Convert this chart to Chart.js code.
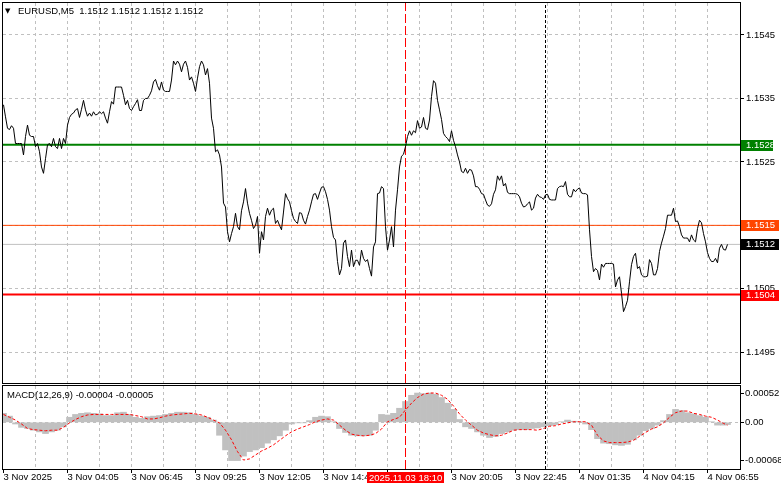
<!DOCTYPE html>
<html><head><meta charset="utf-8">
<script src="https://cdn.jsdelivr.net/npm/chart.js@4.4.1/dist/chart.umd.min.js"></script>
<style>
html,body{margin:0;padding:0;background:#fff;overflow:hidden}
#wrap{position:relative;width:781px;height:489px;background:#fff}
#main{position:absolute;left:0;top:0}
#macd{position:absolute;left:0;top:384px}
</style></head><body>
<div id="wrap">
<canvas id="main" width="781" height="385"></canvas>
<canvas id="macd" width="781" height="105"></canvas>
</div>
<script>
// ---------------- DATA ----------------
const symbolTitle = 'EURUSD,M5';
// M5 close prices, one per bar (bar index = position)
const closes = [1.15340,1.15321,1.15303,1.15301,1.15307,1.15303,1.15279,1.15279,1.15279,1.15279,
1.15261,1.15290,1.15308,1.15292,1.15290,1.15290,1.15274,1.15279,1.15266,1.15242,
1.15232,1.15255,1.15277,1.15279,1.15274,1.15287,1.15274,1.15271,1.15287,1.15271,
1.15287,1.15279,1.15308,1.15320,1.15325,1.15327,1.15332,1.15334,1.15320,1.15333,
1.15347,1.15332,1.15322,1.15327,1.15322,1.15329,1.15324,1.15325,1.15329,1.15326,
1.15329,1.15319,1.15311,1.15329,1.15345,1.15341,1.15368,1.15368,1.15368,1.15368,
1.15355,1.15340,1.15347,1.15334,1.15331,1.15337,1.15342,1.15348,1.15331,1.15331,
1.15347,1.15350,1.15350,1.15355,1.15362,1.15376,1.15380,1.15370,1.15363,1.15376,
1.15363,1.15361,1.15361,1.15361,1.15379,1.15409,1.15403,1.15409,1.15404,1.15392,
1.15404,1.15409,1.15399,1.15379,1.15384,1.15374,1.15361,1.15382,1.15400,1.15409,
1.15403,1.15387,1.15397,1.15374,1.15319,1.15303,1.15266,1.15269,1.15261,1.15242,
1.15185,1.15179,1.15140,1.15124,1.15137,1.15148,1.15169,1.15148,1.15143,1.15173,
1.15187,1.15208,1.15185,1.15169,1.15158,1.15145,1.15150,1.15164,1.15106,1.15140,
1.15127,1.15164,1.15177,1.15166,1.15174,1.15177,1.15153,1.15158,1.15150,1.15143,
1.15171,1.15200,1.15192,1.15187,1.15173,1.15161,1.15156,1.15153,1.15170,1.15169,
1.15158,1.15152,1.15164,1.15174,1.15187,1.15199,1.15200,1.15191,1.15201,1.15210,
1.15211,1.15203,1.15191,1.15174,1.15148,1.15131,1.15127,1.15093,1.15072,1.15082,
1.15122,1.15127,1.15101,1.15085,1.15111,1.15085,1.15095,1.15095,1.15087,1.15111,
1.15098,1.15093,1.15096,1.15082,1.15070,1.15116,1.15124,1.15200,1.15201,1.15211,
1.15208,1.15148,1.15111,1.15127,1.15148,1.15116,1.15174,1.15206,1.15242,1.15259,
1.15262,1.15274,1.15290,1.15299,1.15292,1.15299,1.15296,1.15315,1.15303,1.15305,
1.15320,1.15303,1.15301,1.15316,1.15353,1.15378,1.15374,1.15347,1.15332,1.15317,
1.15295,1.15290,1.15287,1.15282,1.15299,1.15284,1.15274,1.15261,1.15250,1.15235,
1.15233,1.15240,1.15232,1.15238,1.15237,1.15228,1.15211,1.15211,1.15207,1.15200,
1.15199,1.15190,1.15182,1.15180,1.15184,1.15199,1.15206,1.15228,1.15221,1.15228,
1.15212,1.15216,1.15202,1.15200,1.15200,1.15200,1.15200,1.15199,1.15195,1.15185,
1.15179,1.15180,1.15184,1.15187,1.15174,1.15177,1.15193,1.15199,1.15195,1.15194,
1.15191,1.15198,1.15199,1.15191,1.15190,1.15190,1.15190,1.15208,1.15211,1.15212,
1.15211,1.15219,1.15199,1.15195,1.15195,1.15207,1.15203,1.15207,1.15209,1.15201,
1.15200,1.15200,1.15198,1.15143,1.15101,1.15077,1.15082,1.15079,1.15064,1.15089,
1.15084,1.15090,1.15090,1.15090,1.15090,1.15089,1.15053,1.15064,1.15069,1.15043,
1.15014,1.15022,1.15032,1.15061,1.15088,1.15101,1.15106,1.15082,1.15085,1.15072,
1.15069,1.15069,1.15070,1.15096,1.15090,1.15072,1.15072,1.15082,1.15109,1.15122,
1.15133,1.15145,1.15166,1.15166,1.15166,1.15177,1.15156,1.15157,1.15148,1.15135,
1.15130,1.15130,1.15130,1.15124,1.15135,1.15127,1.15124,1.15145,1.15158,1.15154,
1.15137,1.15124,1.15107,1.15098,1.15093,1.15093,1.15098,1.15091,1.15114,1.15120,
1.15112,1.15111,1.15120];

// MACD(12,26,9) sampled bars, main (histogram) and signal values
const macdBars = [0,3,6,9,12,15,18,21,24,27,30,33,36,39,42,45,48,51,54,57,60,63,66,69,72,75,78,81,84,87,90,93,96,99,
102,105,108,111,114,117,120,123,126,129,132,135,138,141,144,147,150,153,156,159,162,165,168,171,174,177,180,183,186,189,
192,195,198,201,204,207,210,213,216,219,222,225,228,231,234,237,240,243,246,249,252,255,258,261,264,267,270,273,276,279,
282,285,288,291,294,297,300,303,306,309,312,315,318,321,324,327,330,333,336,339,342,345,348,351,354,357,360,362];
const macdMain = [0.00016,0.00011,-0.00003,-0.00009,-0.00011,-0.00014,-0.00017,-0.00020,-0.00017,-0.00014,-0.00008,0.00009,0.00014,0.00016,0.00017,0.00016,0.00015,0.00012,0.00012,0.00017,0.00018,0.00014,0.00009,0.00007,0.00010,0.00011,0.00012,0.00014,0.00016,0.00018,0.00018,0.00017,0.00014,0.00011,
0.00009,0.00004,-0.00023,-0.00049,-0.00068,-0.00068,-0.00060,-0.00052,-0.00049,-0.00045,-0.00037,-0.00031,-0.00024,-0.00014,-0.00003,-0.00001,-0.00001,0.00003,0.00009,0.00011,0.00010,0.00001,-0.00011,-0.00018,-0.00023,-0.00024,-0.00024,-0.00023,-0.00014,0.00014,
0.00013,0.00016,0.00025,0.00037,0.00048,0.00052,0.00051,0.00052,0.00050,0.00044,0.00034,0.00023,0.00005,-0.00008,-0.00011,-0.00017,-0.00023,-0.00027,-0.00025,-0.00020,-0.00017,-0.00014,-0.00013,-0.00013,-0.00011,-0.00010,-0.00008,-0.00006,-0.00004,0.00001,
0.00004,0.00002,0.00001,-0.00003,-0.00013,-0.00029,-0.00037,-0.00038,-0.00040,-0.00041,-0.00039,-0.00031,-0.00023,-0.00015,-0.00011,-0.00005,0.00003,0.00014,0.00023,0.00021,0.00017,0.00015,0.00012,0.00009,0.00001,-0.00005,-0.00005,-0.00004];
const macdSignal = [0.00014,0.00009,0.00004,-0.00003,-0.00011,-0.00013,-0.00014,-0.00015,-0.00014,-0.00014,-0.00009,-0.00001,0.00005,0.00010,0.00013,0.00014,0.00014,0.00014,0.00014,0.00014,0.00014,0.00014,0.00012,0.00010,0.00006,0.00006,0.00008,0.00011,0.00013,0.00014,0.00015,0.00016,0.00015,0.00013,
0.00009,0.00004,-0.00001,-0.00014,-0.00031,-0.00052,-0.00067,-0.00065,-0.00058,-0.00051,-0.00046,-0.00040,-0.00032,-0.00024,-0.00017,-0.00012,-0.00008,-0.00004,0.00001,0.00004,0.00006,0.00004,-0.00005,-0.00014,-0.00021,-0.00023,-0.00024,-0.00023,-0.00020,-0.00012,
0.00001,0.00005,0.00009,0.00022,0.00034,0.00044,0.00050,0.00052,0.00052,0.00048,0.00041,0.00029,0.00015,0.00004,-0.00005,-0.00014,-0.00019,-0.00022,-0.00024,-0.00023,-0.00019,-0.00014,-0.00013,-0.00013,-0.00013,-0.00014,-0.00011,-0.00007,-0.00006,-0.00003,
-0.00001,0.00001,0.00001,0.00001,-0.00005,-0.00023,-0.00033,-0.00036,-0.00036,-0.00036,-0.00035,-0.00032,-0.00025,-0.00018,-0.00012,-0.00008,-0.00001,0.00009,0.00017,0.00020,0.00020,0.00016,0.00014,0.00011,0.00009,0.00004,-0.00002,-0.00005];

// Horizontal levels
const levelValues = [1.15277, 1.1515, 1.1512, 1.15041];
const levelLineColors = ['#008000', '#ff4500', '#c0c0c0', '#ff0000'];
const levelTagColors = ['#008000', '#ff4500', '#000000', '#ff0000'];

// Axis ticks
const priceTicks = [1.1495, 1.1505, 1.1515, 1.1525, 1.1535, 1.1545];
const gridBars = [16,32,48,64,80,96,112,128,144,160,176,192,208,224,240,256,272,288,304,320,336,352];
const timeTickBars = [0,32,64,96,128,160,192,224,256,288,320,352];
const timeTickLabels = ['3 Nov 2025','3 Nov 04:05','3 Nov 06:45','3 Nov 09:25','3 Nov 12:05','3 Nov 14:45','3 Nov 17:25','3 Nov 20:05','3 Nov 22:45','4 Nov 01:35','4 Nov 04:15','4 Nov 06:55'];
const crosshairBar = 201;
const crosshairLabel = '2025.11.03 18:10';
const daySeparatorBar = 271;

// ---------------- CHART ----------------
const FONT = '"Liberation Sans", Arial, sans-serif';
const FS = 9.5;
const xMin = -0.25, xMax = 368.25;
const pMin = 1.149016, pMax = 1.155004;
const mMin = -0.000829, mMax = 0.000645;

const noPad = s => { s.paddingTop = 0; s.paddingBottom = 0; s.paddingLeft = 0; s.paddingRight = 0; };

const framePlugin = {
  id: 'frame',
  afterDatasetsDraw(chart) {
    const {ctx, chartArea: a} = chart;
    ctx.save();
    ctx.strokeStyle = '#000'; ctx.lineWidth = 1;
    ctx.strokeRect(a.left - 0.5, a.top - 0.5, a.right - a.left + 1, a.bottom - a.top + 1);
    ctx.restore();
  }
};

const mainDecor = {
  id: 'mainDecor',
  afterDraw(chart) {
    const {ctx} = chart;
    const y = chart.scales.y;
    ctx.save();
    ctx.font = FS + 'px ' + FONT;
    ctx.textBaseline = 'middle';
    levelValues.forEach((v, k) => {
      const py = Math.round(y.getPixelForValue(v));
      const w = k === 0 ? 32 : 38;
      ctx.fillStyle = levelTagColors[k];
      ctx.fillRect(741, py - 5, w, 11);
      ctx.fillStyle = '#fff';
      ctx.fillText(v.toFixed(4), 746, py + 0.5);
    });
    // header
    ctx.fillStyle = '#000';
    ctx.font = '7px "DejaVu Sans"';
    ctx.fillText('\u25BC', 5, 11);
    ctx.font = FS + 'px ' + FONT;
    const last = closes[closes.length - 1].toFixed(4);
    ctx.fillText(symbolTitle + '  ' + [last, last, last, last].join(' '), 18, 11);
    ctx.restore();
  }
};

const macdDecor = {
  id: 'macdDecor',
  afterDraw(chart) {
    const {ctx} = chart;
    const x = chart.scales.x;
    ctx.save();
    ctx.font = FS + 'px ' + FONT;
    ctx.textBaseline = 'middle';
    ctx.fillStyle = '#000';
    ctx.fillText('MACD(12,26,9) ' + macdMain[macdMain.length - 1].toFixed(5) + ' ' + macdSignal[macdSignal.length - 1].toFixed(5), 7, 11.5);
    const cx = x.getPixelForValue(crosshairBar);
    const w = ctx.measureText(crosshairLabel).width + 4;
    ctx.fillStyle = '#ff0000';
    ctx.fillRect(Math.round(cx - w / 2), 88, Math.round(w), 11);
    ctx.fillStyle = '#fff';
    ctx.fillText(crosshairLabel, Math.round(cx - w / 2) + 2, 94);
    ctx.restore();
  }
};

const vline = (bar, lo, hi, color, dash) => ({
  type: 'line', data: [{x: bar, y: lo}, {x: bar, y: hi}],
  borderColor: color, borderWidth: 1, borderDash: dash, pointRadius: 0, tension: 0
});

const mainDatasets = [
  {type: 'line', data: closes.map((v, i) => ({x: i, y: v})), borderColor: '#000', borderWidth: 1, pointRadius: 0, tension: 0},
  vline(crosshairBar, pMin, pMax, '#ff0000', [9, 3]),
  vline(daySeparatorBar, pMin, pMax, '#000', [3, 2])
].concat(levelValues.map((v, k) => ({
  type: 'line', data: [{x: xMin, y: v}, {x: xMax, y: v}],
  borderColor: levelLineColors[k], borderWidth: (k === 0 || k === 3) ? 2 : 1, pointRadius: 0
})));

new Chart(document.getElementById('main'), {
  type: 'line',
  data: {datasets: mainDatasets},
  options: {
    responsive: false, animation: false, events: [],
    layout: {padding: {left: 3, top: 3, right: 0, bottom: 2}},
    plugins: {legend: {display: false}, tooltip: {enabled: false}, title: {display: false}},
    scales: {
      x: {
        type: 'linear', min: xMin, max: xMax, offset: false,
        afterBuildTicks: s => { s.ticks = gridBars.map(v => ({value: v})); },
        afterFit: s => { s.height = 0; noPad(s); },
        grid: {color: '#c0c0c0', drawTicks: false, offset: false},
        border: {display: false, dash: [3, 3]},
        ticks: {display: false}
      },
      y: {
        position: 'right', min: pMin, max: pMax,
        afterBuildTicks: s => { s.ticks = priceTicks.map(v => ({value: v})); },
        afterFit: s => { s.width = 41; noPad(s); },
        grid: {color: '#c0c0c0', tickColor: '#000', tickLength: 4, drawTicks: true},
        border: {display: false, dash: [3, 3]},
        ticks: {font: {family: FONT, size: FS}, color: '#000', padding: 2, autoSkip: false, callback: v => Number(v).toFixed(4)}
      }
    }
  },
  plugins: [framePlugin, mainDecor]
});

const macdMax = Math.max(...macdMain, ...macdSignal);
const macdMin = Math.min(...macdMain, ...macdSignal);

new Chart(document.getElementById('macd'), {
  type: 'line',
  data: {datasets: [
    {type: 'line', data: macdBars.map((b, k) => ({x: b, y: macdSignal[k]})), borderColor: '#ff0000', borderWidth: 1, borderDash: [3, 2], pointRadius: 0, tension: 0},
    vline(crosshairBar, mMin, mMax, '#ff0000', [9, 3]),
    vline(daySeparatorBar, mMin, mMax, '#000', [3, 2]),
    {type: 'bar', data: macdBars.map((b, k) => ({x: b, y: macdMain[k]})), backgroundColor: '#c0c0c0', borderWidth: 0, barThickness: 6, grouped: false}
  ]},
  options: {
    responsive: false, animation: false, events: [],
    layout: {padding: {left: 3, top: 2, right: 0, bottom: 0}},
    plugins: {legend: {display: false}, tooltip: {enabled: false}},
    scales: {
      x: {
        type: 'linear', min: xMin, max: xMax, offset: false,
        afterBuildTicks: s => { s.ticks = [0].concat(gridBars).map(v => ({value: v})); },
        afterFit: s => { s.height = 20; noPad(s); },
        grid: {
          color: c => (c.tick && c.tick.value > 0) ? '#c0c0c0' : 'rgba(0,0,0,0)',
          tickColor: c => (c.tick && timeTickBars.includes(c.tick.value)) ? '#000' : 'rgba(0,0,0,0)',
          tickLength: 4, offset: false
        },
        border: {display: false, dash: [3, 3]},
        ticks: {
          font: {family: FONT, size: FS}, color: '#000', align: 'start', autoSkip: false,
          maxRotation: 0, minRotation: 0, padding: -1,
          callback: v => { const k = timeTickBars.indexOf(v); return k >= 0 ? timeTickLabels[k] : ''; }
        }
      },
      y: {
        position: 'right', min: mMin, max: mMax,
        afterBuildTicks: s => { s.ticks = [macdMax, 0, macdMin].map(v => ({value: v})); },
        afterFit: s => { s.width = 41; noPad(s); },
        grid: {color: c => (c.tick && c.tick.value === 0) ? '#c0c0c0' : 'rgba(0,0,0,0)', tickColor: '#000', tickLength: 4},
        border: {display: false, dash: [3, 3]},
        ticks: {font: {family: FONT, size: FS}, color: '#000', padding: 1, autoSkip: false,
          callback: v => v === 0 ? '0.00' : Number(v).toFixed(5)}
      }
    }
  },
  plugins: [framePlugin, macdDecor]
});
</script>
</body></html>
